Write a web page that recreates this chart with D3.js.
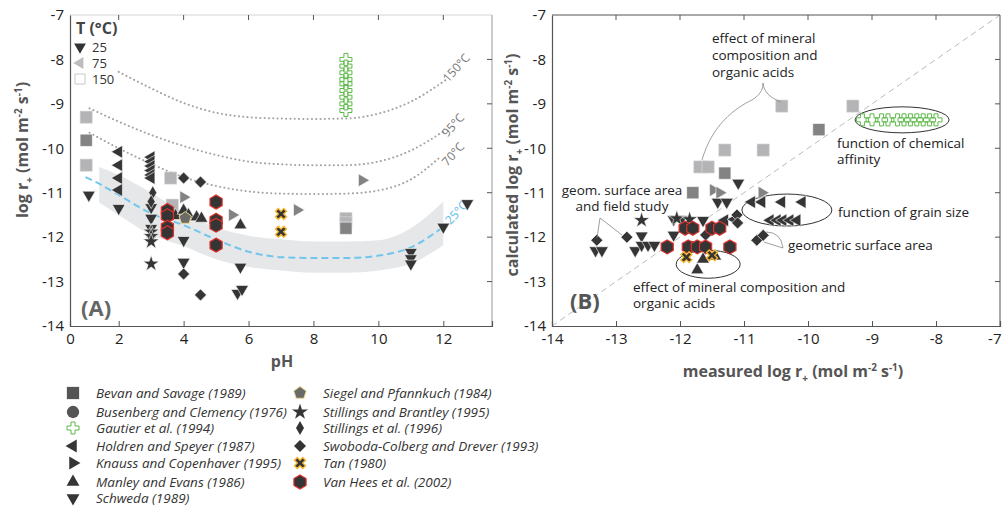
<!DOCTYPE html>
<html>
<head>
<meta charset="utf-8">
<script src="https://cdn.jsdelivr.net/npm/d3@7.9.0/dist/d3.min.js"></script>
<style>
  body { margin: 0; background: #fff; }
  svg { font-family: "Open Sans", sans-serif; }
</style>
</head>
<body>
<svg id="chart" width="1002" height="507"></svg>
<script>
// ---- data ----
const ticksPH = [0.5, 2, 4, 6, 8, 10, 12];
const ticksLog = [-14, -13, -12, -11, -10, -9, -8, -7];

// model curves (pH, log r)
const curve150 = [[2.0,-8.28],[3,-8.65],[4,-8.98],[5,-9.2],[6,-9.3],[7,-9.33],[8,-9.34],[9,-9.33],[10,-9.22],[11,-8.95],[12.1,-8.45]];
const curve95 = [[1.1,-9.1],[2,-9.4],[3,-9.7],[4,-9.95],[5,-10.15],[6,-10.3],[7,-10.36],[8,-10.38],[9,-10.38],[10,-10.3],[11,-10.05],[12,-9.62]];
const curve70 = [[1.1,-9.65],[2,-10.0],[3,-10.35],[4,-10.65],[5,-10.85],[6,-10.97],[7,-11.02],[8,-11.03],[9,-11.02],[10,-10.95],[11,-10.7],[11.9,-10.2]];
const curve25 = [[0.98,-10.65],[1.35,-10.78],[2,-11.05],[2.98,-11.46],[4,-11.73],[5.05,-12.07],[6.06,-12.34],[7,-12.45],[8,-12.47],[9,-12.47],[10.06,-12.41],[11,-12.23],[12,-11.77]];
const bandPH = [1.4, 2, 3, 4, 5, 6, 7, 8, 9, 10, 11, 12];
const bandHi = [-10.42,-10.6,-11.0,-11.45,-11.78,-11.97,-12.05,-12.1,-12.1,-12.07,-11.8,-11.2];
const bandLo = [-11.22,-11.5,-11.95,-12.2,-12.5,-12.67,-12.75,-12.8,-12.8,-12.75,-12.6,-12.18];

// panel A points: [study, T, pH, log r]
const pointsA = [
  ['bevan',150,1.0,-9.3],['bevan',75,1.0,-9.82],['bevan',150,1.0,-10.38],['bevan',150,3.6,-10.67],
  ['bevan',150,3.65,-11.28],['bevan',150,9.0,-11.58],['bevan',150,9.0,-11.68],['bevan',75,9.0,-11.8],
  ['holdren',25,2.0,-10.08],['holdren',25,2.0,-10.38],['holdren',25,2.0,-10.67],['holdren',25,2.0,-10.94],
  ['holdren',25,3.0,-10.2],['holdren',25,3.0,-10.3],['holdren',25,3.0,-10.4],['holdren',25,3.0,-10.5],
  ['holdren',25,3.0,-10.6],['holdren',25,3.0,-10.67],
  ['knauss',75,4.0,-11.1],['knauss',75,5.5,-11.5],['knauss',75,7.5,-11.39],['knauss',75,9.5,-10.72],
  ['manley',25,3.75,-11.52],['manley',25,4.0,-11.4],['manley',25,4.15,-11.5],['manley',25,4.4,-11.55],
  ['manley',25,4.55,-11.58],['manley',25,5.75,-11.73],
  ['schweda',25,1.08,-11.05],['schweda',25,2.0,-11.35],['schweda',25,3.0,-11.33],['schweda',25,3.0,-11.57],
  ['schweda',25,3.0,-11.8],['schweda',25,4.0,-12.07],['schweda',25,4.0,-12.56],['schweda',25,5.75,-12.67],
  ['schweda',25,5.66,-13.26],['schweda',25,5.8,-13.17],['schweda',25,11.0,-12.34],['schweda',25,11.0,-12.48],
  ['schweda',25,11.0,-12.6],['schweda',25,12.0,-11.77],['schweda',25,12.74,-11.24],
  ['stillings96',25,3.05,-11.0],['stillings96',25,3.0,-11.2],
  ['stillingsB',25,3.0,-11.88],['stillingsB',25,3.0,-11.98],['stillingsB',25,3.0,-12.1],['stillingsB',25,3.0,-12.6],
  ['swoboda',25,4.0,-10.67],['swoboda',25,4.52,-10.76],['swoboda',25,4.0,-12.83],['swoboda',25,4.52,-13.3],
  ['tan',25,7.0,-11.48],['tan',25,7.0,-11.88],
  ['vanhees',25,3.5,-11.4],['vanhees',25,3.5,-11.52],['vanhees',25,3.5,-11.78],['vanhees',25,3.5,-11.9],
  ['vanhees',25,5.0,-11.21],['vanhees',25,5.0,-11.62],['vanhees',25,5.0,-11.73],['vanhees',25,5.0,-12.18],
  ['siegel',25,4.05,-11.57],
  ['gautier',150,9.0,-8.0],['gautier',150,9.0,-8.15],['gautier',150,9.0,-8.3],['gautier',150,9.0,-8.45],
  ['gautier',150,9.0,-8.55],['gautier',150,9.0,-8.7],['gautier',150,9.0,-8.85],['gautier',150,9.0,-9.0],
  ['gautier',150,9.0,-9.15]
];

// panel B points: [study, T, measured, calculated]
const pointsB = [
  ['bevan',150,-11.30,-10.04],['bevan',150,-10.70,-10.04],['bevan',150,-10.41,-9.05],['bevan',150,-9.30,-9.05],
  ['bevan',150,-11.69,-10.42],['bevan',150,-11.56,-10.42],
  ['bevan',75,-9.83,-9.58],['bevan',75,-11.30,-10.56],['bevan',75,-11.8,-11.0],
  ['knauss',75,-11.48,-10.94],['knauss',75,-11.38,-11.0],['knauss',75,-10.72,-11.0],
  ['schweda',25,-11.09,-10.78],['schweda',25,-11.41,-11.21],['schweda',25,-11.27,-11.21],
  ['schweda',25,-12.1,-11.6],['schweda',25,-11.98,-11.6],['schweda',25,-11.64,-11.62],['schweda',25,-12.1,-11.95],
  ['schweda',25,-12.6,-11.97],['schweda',25,-12.7,-12.3],['schweda',25,-12.6,-12.18],['schweda',25,-12.5,-12.18],
  ['schweda',25,-12.4,-12.18],['schweda',25,-13.32,-12.3],['schweda',25,-13.22,-12.3],
  ['stillingsB',25,-12.6,-11.62],['stillingsB',25,-12.05,-11.58],['stillingsB',25,-11.85,-11.6],
  ['holdren',25,-10.88,-11.21],['holdren',25,-10.72,-11.21],['holdren',25,-10.41,-11.21],['holdren',25,-10.09,-11.21],
  ['holdren',25,-10.59,-11.62],['holdren',25,-10.48,-11.62],['holdren',25,-10.39,-11.62],['holdren',25,-10.28,-11.62],
  ['holdren',25,-10.17,-11.62],['holdren',25,-11.3,-11.62],['holdren',25,-11.15,-11.6],
  ['swoboda',25,-11.11,-11.5],['swoboda',25,-11.1,-11.68],['swoboda',25,-10.8,-12.07],['swoboda',25,-10.7,-11.96],
  ['swoboda',25,-13.3,-12.07],['swoboda',25,-12.83,-12.0],['swoboda',25,-11.6,-11.95],
  ['busenberg',25,-11.82,-12.22],
  ['vanhees',25,-11.92,-11.8],['vanhees',25,-11.8,-11.8],['vanhees',25,-11.5,-11.8],['vanhees',25,-11.38,-11.8],
  ['vanhees',25,-12.2,-12.22],['vanhees',25,-11.87,-12.22],['vanhees',25,-11.73,-12.22],['vanhees',25,-11.6,-12.22],
  ['vanhees',25,-11.22,-12.22],
  ['manley',25,-11.73,-12.74],['manley',25,-11.64,-12.5],['manley',25,-11.45,-12.43],
  ['tan',25,-11.9,-12.45],['tan',25,-11.5,-12.41],
  ['gautier',150,-9.15,-9.36],['gautier',150,-9.0,-9.36],['gautier',150,-8.85,-9.36],['gautier',150,-8.75,-9.36],
  ['gautier',150,-8.6,-9.36],['gautier',150,-8.5,-9.36],['gautier',150,-8.4,-9.36],['gautier',150,-8.3,-9.36],
  ['gautier',150,-8.2,-9.36],['gautier',150,-8.1,-9.36],['gautier',150,-8.0,-9.36]
];

const legendCol1 = [['bevan','Bevan and Savage (1989)'],['busenberg','Busenberg and Clemency (1976)'],
  ['gautier','Gautier et al. (1994)'],['holdren','Holdren and Speyer (1987)'],
  ['knauss','Knauss and Copenhaver (1995)'],['manley','Manley and Evans (1986)'],['schweda','Schweda (1989)']];
const legendCol2 = [['siegel','Siegel and Pfannkuch (1984)'],['stillingsB','Stillings and Brantley (1995)'],
  ['stillings96','Stillings et al. (1996)'],['swoboda','Swoboda-Colberg and Drever (1993)'],
  ['tan','Tan (1980)'],['vanhees','Van Hees et al. (2002)']];
const tempLegend = [['schweda',25,'25'],['holdren',75,'75'],['bevan',0,'150']];

// ---- setup ----
const svg = d3.select('#chart');
const xA = d3.scaleLinear().domain([0.5, 13.5]).range([70, 492]);
const xB = d3.scaleLinear().domain([-14, -7]).range([552, 1000]);
const y = d3.scaleLinear().domain([-14, -7]).range([326, 15]);

const tempColor = {25: '#353535', 75: '#838383', 150: '#b4b4b7'};

const sym = (t, s) => d3.symbol().type(t).size(s)();
function polyPath(n, r, start) {
  return d3.line()(d3.range(n).map(i => {
    const a = start + 2 * Math.PI * i / n;
    return [r * Math.cos(a), r * Math.sin(a)];
  })) + 'Z';
}
const tri = sym(d3.symbolTriangle, 72);
const shapes = {
  bevan: {d: sym(d3.symbolSquare, 150)},
  busenberg: {d: sym(d3.symbolCircle, 120)},
  gautier: {d: sym(d3.symbolCross, 80)},
  holdren: {d: tri, rot: -90},
  knauss: {d: tri, rot: 90},
  manley: {d: tri, rot: 0},
  schweda: {d: tri, rot: 180},
  siegel: {d: polyPath(5, 6.5, -Math.PI / 2)},
  stillingsB: {d: sym(d3.symbolStar, 80)},
  stillings96: {d: 'M0,-7L4,0L0,7L-4,0Z'},
  swoboda: {d: sym(d3.symbolSquare, 72), rot: 45},
  tan: {d: sym(d3.symbolCross, 75), rot: 45},
  vanhees: {d: polyPath(6, 7, -Math.PI / 2)}
};

function styleMark(sel, study, temp) {
  let fill = tempColor[temp] || '#353535', stroke = '#fff', sw = 0.6;
  if (temp === 150) stroke = '#dcdcdc';
  if (study === 'gautier') { fill = 'none'; stroke = '#5cb848'; sw = 1; }
  if (study === 'tan') { stroke = '#f2b630'; sw = 1.4; }
  if (study === 'vanhees') { stroke = '#e2302c'; sw = 1.2; }
  if (study === 'siegel') { fill = '#6a6a6a'; stroke = '#e6d58a'; sw = 1; }
  sel.attr('fill', fill).attr('stroke', stroke).attr('stroke-width', sw);
}

function drawPoints(g, data, xs) {
  data.forEach(d => {
    const s = shapes[d[0]];
    const p = g.append('path')
      .attr('d', s.d)
      .attr('transform', `translate(${xs(d[2])},${y(d[3])}) rotate(${s.rot || 0})`);
    styleMark(p, d[0], d[1]);
  });
}

function richText(sel, parts, size) {
  let shift = 0;
  parts.forEach(([t, k]) => {
    const target = k === 'sup' ? -size * 0.4 : k === 'sub' ? size * 0.3 : 0;
    const ts = sel.append('tspan').text(t).attr('dy', target - shift);
    if (k) ts.attr('font-size', size * 0.62);
    shift = target;
  });
}
const unitParts = [[' (mol m'], ['-2', 'sup'], [' s'], ['-1', 'sup'], [')']];

function frame(g, xs, xTicks, xFmt, topColor, rightColor) {
  const [x0, x1] = xs.range();
  g.append('line').attr('x1', x0).attr('x2', x1).attr('y1', 15).attr('y2', 15).attr('stroke', topColor);
  g.append('line').attr('x1', x1).attr('x2', x1).attr('y1', 15).attr('y2', 326).attr('stroke', rightColor);
  // top ticks inside
  g.append('g').selectAll('line').data(xTicks.filter(v => v > xs.domain()[0] && v < xs.domain()[1]))
    .join('line').attr('x1', d => xs(d)).attr('x2', d => xs(d)).attr('y1', 15).attr('y2', 20).attr('stroke', '#555');
  // right ticks inside
  g.append('g').selectAll('line').data(ticksLog.slice(1, -1))
    .join('line').attr('x1', x1).attr('x2', x1 - 5).attr('y1', d => y(d)).attr('y2', d => y(d)).attr('stroke', '#555');

  const xAxis = g.append('g').attr('transform', 'translate(0,326)')
    .call(d3.axisBottom(xs).tickValues(xTicks).tickSize(-5).tickPadding(7).tickFormat(xFmt));
  const yAxis = g.append('g').attr('transform', `translate(${x0},0)`)
    .call(d3.axisLeft(y).tickValues(ticksLog).tickSize(0).tickPadding(6).tickFormat(d => d));
  [xAxis, yAxis].forEach(a => {
    a.select('.domain').attr('stroke', '#555').attr('stroke-width', 1.2);
    a.selectAll('.tick line').attr('stroke', '#555');
    a.selectAll('text').attr('font-size', 15).attr('fill', '#222').attr('font-family', '"Open Sans", sans-serif');
  });
  return xAxis;
}

// ---- panel A ----
const gA = svg.append('g');
gA.append('path')
  .datum(bandPH.map((p, i) => [p, bandHi[i], bandLo[i]]))
  .attr('fill', '#e6e7e9')
  .attr('d', d3.area().x(d => xA(d[0])).y0(d => y(d[1])).y1(d => y(d[2])).curve(d3.curveMonotoneX));

const lineA = d3.line().x(d => xA(d[0])).y(d => y(d[1])).curve(d3.curveMonotoneX);
[curve150, curve95, curve70].forEach(c => {
  gA.append('path').datum(c).attr('d', lineA).attr('fill', 'none')
    .attr('stroke', '#a3a3a3').attr('stroke-width', 2).attr('stroke-linecap', 'round')
    .attr('stroke-dasharray', '0.1 4.2');
});
gA.append('path').datum(curve25).attr('d', lineA).attr('fill', 'none')
  .attr('stroke', '#72c6ec').attr('stroke-width', 2).attr('stroke-dasharray', '7 4');

const curveLabels = [['150°C', 12.4, -8.19, '#777'], ['95°C', 12.3, -9.48, '#777'],
  ['70°C', 12.3, -10.13, '#777'], ['25°C', 12.4, -11.45, '#5fbce8']];
curveLabels.forEach(([t, px, py, c]) => {
  gA.append('text').text(t)
    .attr('transform', `translate(${xA(px)},${y(py)}) rotate(-48)`)
    .attr('text-anchor', 'middle').attr('dy', '0.35em')
    .attr('font-size', 12).attr('fill', c);
});

frame(gA, xA, ticksPH, d => d === 0.5 ? '0' : d, '#d4d4d4', '#999');
drawPoints(gA, pointsA, xA);

// temperature legend
gA.append('text').text('T (°C)').attr('x', 76).attr('y', 34)
  .attr('font-size', 16).attr('font-weight', 700).attr('fill', '#444');
tempLegend.forEach(([st, t, lab], i) => {
  const yy = 47 + i * 16;
  const p = gA.append('path').attr('d', st === 'bevan' ? sym(d3.symbolSquare, 100) : sym(d3.symbolTriangle, 60))
    .attr('transform', `translate(80,${yy}) rotate(${shapes[st].rot || 0})`);
  if (t === 25) p.attr('fill', '#333');
  else if (t === 75) p.attr('fill', '#bdbdbd');
  else p.attr('fill', '#fff').attr('stroke', '#c8c8c8').attr('stroke-width', 1);
  gA.append('text').text(lab).attr('x', 92).attr('y', yy + 5).attr('font-size', 13).attr('fill', '#333');
});

gA.append('text').text('(A)').attr('x', 81).attr('y', 316)
  .attr('font-size', 22).attr('font-weight', 700).attr('fill', '#666');
gA.append('text').text('pH').attr('x', 282).attr('y', 367).attr('text-anchor', 'middle')
  .attr('font-size', 16).attr('font-weight', 700).attr('fill', '#555');
richText(gA.append('text').attr('transform', 'translate(28,150) rotate(-90)')
  .attr('text-anchor', 'middle').attr('font-size', 16).attr('font-weight', 700).attr('fill', '#555'),
  [['log r'], ['+', 'sub'], ...unitParts], 16);

// ---- panel B ----
const gB = svg.append('g');
const diag = [-14, -7];
gB.append('line').attr('x1', xB(diag[0])).attr('y1', y(diag[0])).attr('x2', xB(diag[1])).attr('y2', y(diag[1]))
  .attr('stroke', '#bbb').attr('stroke-width', 1).attr('stroke-dasharray', '6 4');
const xAxisB = frame(gB, xB, ticksLog, d => d, '#555', '#555');
// last label sits at the right edge of the window
xAxisB.selectAll('.tick text').filter(d => d === -7).attr('text-anchor', 'end').attr('x', 1);

// ellipses around groups: [cx, cy (data), rx, ry (px)]
const ellipses = [[-10.33, -11.39, 45, 16], [-8.53, -9.36, 47, 13], [-11.56, -12.61, 32, 14]];
ellipses.forEach(([cx, cy, rx, ry]) => {
  gB.append('ellipse').attr('cx', xB(cx)).attr('cy', y(cy)).attr('rx', rx).attr('ry', ry)
    .attr('fill', 'none').attr('stroke', '#333').attr('stroke-width', 1);
});
drawPoints(gB, pointsB, xB);

// annotation leader lines
const leaders = [
  'M702,160 C712,125 735,108 752,100 C760,95 763,90 763,83 C764,92 769,97 781,102',
  'M600,218 L597,238', 'M600,218 L622,235',
  'M766,232 Q781,232 783,248 Q773,245 764,242'
];
leaders.forEach(d => gB.append('path').attr('d', d).attr('fill', 'none')
  .attr('stroke', '#888').attr('stroke-width', 0.8));

const notes = [
  ['effect of mineral', 712, 43, 'start'], ['composition and', 712, 60, 'start'], ['organic acids', 712, 77, 'start'],
  ['function of chemical', 837, 148, 'start'], ['affinity', 837, 164, 'start'],
  ['function of grain size', 838, 217, 'start'], ['geometric surface area', 788, 250, 'start'],
  ['geom. surface area', 622, 195, 'middle'], ['and field study', 622, 211, 'middle'],
  ['effect of mineral composition and', 633, 292, 'start'], ['organic acids', 633, 308, 'start']
];
notes.forEach(([t, x, yy, a]) => gB.append('text').text(t).attr('x', x).attr('y', yy)
  .attr('text-anchor', a).attr('font-size', 13.5).attr('fill', '#222'));

gB.append('text').text('(B)').attr('x', 570).attr('y', 309)
  .attr('font-size', 22).attr('font-weight', 700).attr('fill', '#555');
richText(gB.append('text').attr('x', 793).attr('y', 377).attr('text-anchor', 'middle')
  .attr('font-size', 16).attr('font-weight', 700).attr('fill', '#555'),
  [['measured log r'], ['+', 'sub'], ...unitParts], 16);
richText(gB.append('text').attr('transform', 'translate(518,165) rotate(-90)')
  .attr('text-anchor', 'middle').attr('font-size', 16).attr('font-weight', 700).attr('fill', '#555'),
  [['calculated log r'], ['+', 'sub'], ...unitParts], 16);

// ---- study legend ----
const gL = svg.append('g');
[[legendCol1, 73, 96, [393, 412, 428, 446, 463, 482, 498]],
 [legendCol2, 300, 323, [393, 412, 428, 446, 463, 482]]].forEach(([items, sx, tx, rows]) => {
  items.forEach(([st, label], i) => {
    const s = shapes[st];
    const p = gL.append('path').attr('d', s.d)
      .attr('transform', `translate(${sx},${rows[i]}) rotate(${s.rot || 0})`);
    styleMark(p, st, 25);
    if (st === 'bevan' || st === 'busenberg') p.attr('fill', '#555');
    p.attr('stroke', st === 'gautier' || st === 'tan' || st === 'vanhees' || st === 'siegel' ? p.attr('stroke') : 'none');
    gL.append('text').text(label).attr('x', tx).attr('y', rows[i] + 4.5)
      .attr('font-size', 13.5).attr('font-style', 'italic').attr('fill', '#333');
  });
});
</script>
</body>
</html>
